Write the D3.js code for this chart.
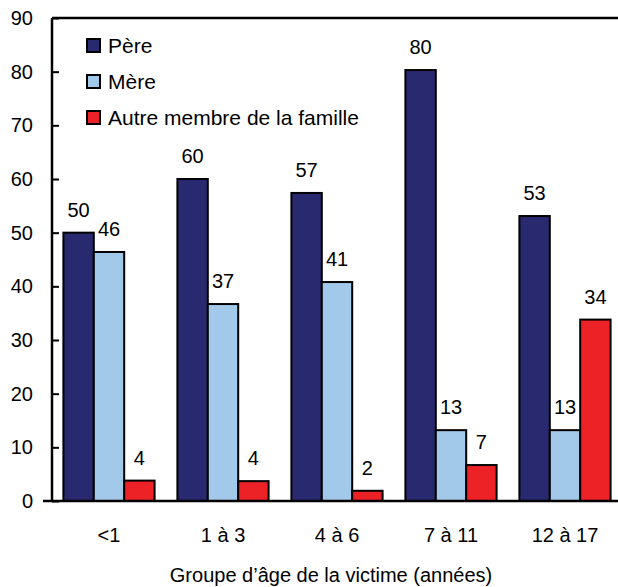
<!DOCTYPE html>
<html>
<head>
<meta charset="utf-8">
<script src="https://cdn.jsdelivr.net/npm/d3@7"></script>
<style>
  body { margin: 0; background: #fff; }
  svg text { font-family: "Liberation Sans", Arial, Helvetica, sans-serif; fill: #000; }
</style>
</head>
<body>
<svg width="618" height="587"></svg>
<script>
const svg = d3.select('svg');

const ageGroups = ['<1', '1 à 3', '4 à 6', '7 à 11', '12 à 17'];
const seriesNames = ['Père', 'Mère', 'Autre membre de la famille'];
const pere = [50.0, 60.0, 57.4, 80.3, 53.1];
const mere = [46.4, 36.7, 40.8, 13.2, 13.2];
const autre = [3.8, 3.7, 1.9, 6.7, 33.8];
const yTicks = [0, 10, 20, 30, 40, 50, 60, 70, 80, 90];

const colors = ['#29296f', '#a2c9ea', '#ec2227'];
const seriesValues = [pere, mere, autre];

const plotLeft = 52, plotRight = 622, plotTop = 18, plotBottom = 501;
const fontFam = '"Liberation Sans", Arial, sans-serif';

const x = d3.scaleBand()
  .domain(ageGroups)
  .range([plotLeft, plotRight])
  .paddingInner(0.2)
  .paddingOuter(0.1);

const xSub = d3.scaleBand()
  .domain(seriesNames)
  .range([0, x.bandwidth()]);

const y = d3.scaleLinear()
  .domain([0, 90])
  .range([plotBottom, plotTop]);

// flatten to one record per bar
const bars = [];
ageGroups.forEach((g, i) => {
  seriesNames.forEach((s, j) => {
    bars.push({ group: g, series: s, value: seriesValues[j][i], color: colors[j] });
  });
});

// bars
svg.append('g')
  .selectAll('rect')
  .data(bars)
  .enter()
  .append('rect')
    .attr('x', d => x(d.group) + xSub(d.series))
    .attr('y', d => y(d.value))
    .attr('width', xSub.bandwidth())
    .attr('height', d => y(0) - y(d.value))
    .attr('fill', d => d.color)
    .attr('stroke', '#000')
    .attr('stroke-width', 2);

// value labels
svg.append('g')
  .selectAll('text')
  .data(bars)
  .enter()
  .append('text')
    .attr('x', d => x(d.group) + xSub(d.series) + xSub.bandwidth() / 2)
    .attr('y', d => y(d.value) - 16)
    .attr('text-anchor', 'middle')
    .attr('font-size', 20)
    .text(d => Math.round(d.value));

// y axis: ticks point inward
const yAxis = d3.axisLeft(y)
  .tickValues(yTicks)
  .tickSize(-7)
  .tickPadding(19);

svg.append('g')
  .attr('transform', `translate(${plotLeft},0)`)
  .call(yAxis)
  .call(g => g.select('.domain').remove())
  .call(g => g.selectAll('.tick line').attr('stroke', '#000').attr('stroke-width', 2))
  .call(g => g.selectAll('.tick text')
    .attr('font-size', 20)
    .attr('font-family', fontFam));

// frame lines: left, top, bottom
svg.append('line')
  .attr('x1', plotLeft).attr('x2', plotLeft)
  .attr('y1', plotTop).attr('y2', plotBottom)
  .attr('stroke', '#000').attr('stroke-width', 2.5);
svg.append('line')
  .attr('x1', plotLeft).attr('x2', 618)
  .attr('y1', plotTop).attr('y2', plotTop)
  .attr('stroke', '#000').attr('stroke-width', 2.5);
svg.append('line')
  .attr('x1', 43).attr('x2', 618)
  .attr('y1', plotBottom).attr('y2', plotBottom)
  .attr('stroke', '#000').attr('stroke-width', 2.5);

// x category labels
const xAxis = d3.axisBottom(x).tickSize(0).tickPadding(27);
svg.append('g')
  .attr('transform', `translate(0,${plotBottom})`)
  .call(xAxis)
  .call(g => g.select('.domain').remove())
  .call(g => g.selectAll('.tick text')
    .attr('font-size', 20)
    .attr('font-family', fontFam));

// x title
svg.append('text')
  .attr('x', 331)
  .attr('y', 582)
  .attr('text-anchor', 'middle')
  .attr('font-size', 20)
  .text('Groupe d’âge de la victime (années)');

// legend
const legend = svg.append('g')
  .selectAll('g')
  .data(seriesNames)
  .enter()
  .append('g')
    .attr('transform', (d, i) => `translate(87,${39 + i * 36})`);

legend.append('rect')
  .attr('width', 13)
  .attr('height', 13)
  .attr('fill', (d, i) => colors[i])
  .attr('stroke', '#000')
  .attr('stroke-width', 2);

legend.append('text')
  .attr('x', 21)
  .attr('y', 14)
  .attr('font-size', 21)
  .text(d => d);
</script>
</body>
</html>
